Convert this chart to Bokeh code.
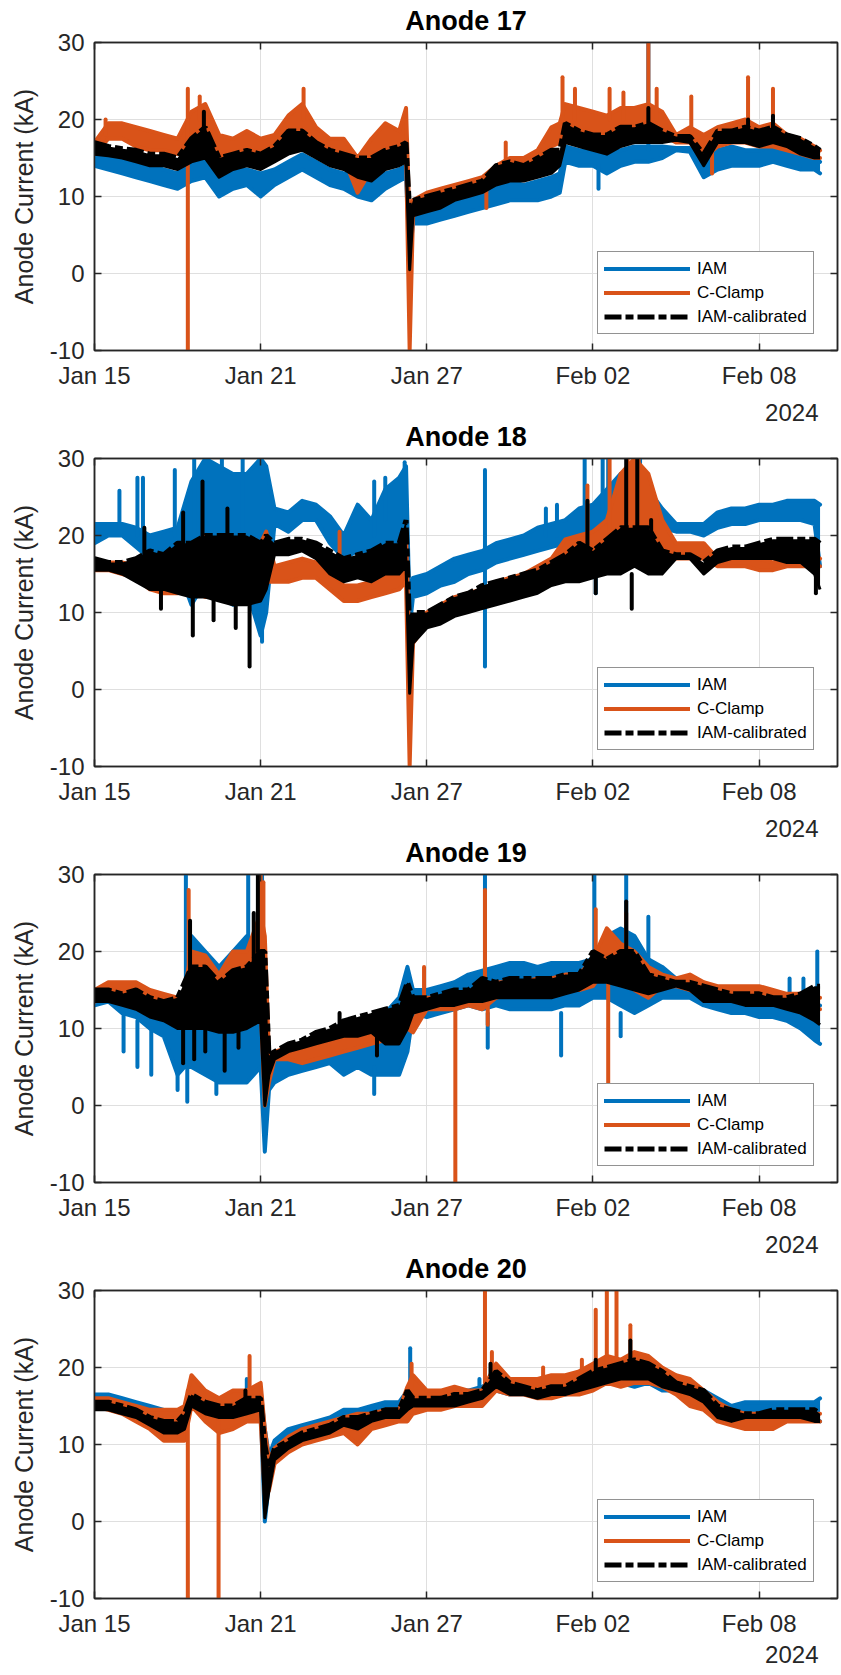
import numpy as np
import pandas as pd
from bokeh.plotting import figure
from bokeh.models import (FixedTicker, DatetimeTickFormatter, LinearAxis, DatetimeAxis,
                          Legend, LegendItem, Title, Range1d, CustomJSTickFormatter)
from bokeh.layouts import column
from bokeh.embed import file_html
from bokeh.resources import INLINE

# ---------------- data (days since 2024-01-15 00:00) ----------------
START_DATE = "2024-01-15"
END_DAYS = 26.83
TICK_DATES = ["2024-01-15", "2024-01-21", "2024-01-27", "2024-02-02", "2024-02-08"]
Y_TICKS = [-10, 0, 10, 20, 30]
Y_TICK_LABELS = ["-10", "0", "10", "20", "30"]
TITLES = ["Anode 17", "Anode 18", "Anode 19", "Anode 20"]
SERIES = ["IAM", "C-Clamp", "IAM-calibrated"]
YEAR_LABEL = "2024"
Y_LABEL = "Anode Current (kA)"

# ---- Anode 17 ----
t17 = [0, 0.5, 1, 1.5, 2, 2.5, 3, 3.5, 4, 4.5, 5, 5.5, 6, 6.5, 7, 7.5, 8, 8.5, 9, 9.5, 10, 10.5, 11,
       11.25, 11.38,
       11.5, 12, 12.5, 13, 13.5, 14, 14.5, 15, 15.5, 16, 16.5,
       16.8,
       17, 17.5, 18, 18.5, 19, 19.5, 20, 20.5, 21, 21.5, 22, 22.5, 23, 23.5, 24, 24.5, 25, 25.5, 26,
       26.2]
iam17_lo = [14, 13.5, 13, 12.5, 12, 11.5, 11, 12, 12.5, 10, 11, 11.5, 10, 11.5, 12.5, 13.5, 12.5, 11.5, 11, 10, 9.5, 11, 12,
            12.5, 2,
            6.5, 6.5, 7, 7.5, 8, 8.5, 9, 9.5, 9.5, 9.5, 10,
            10.5,
            14.5, 14, 14, 13, 14, 14.5, 14.5, 15, 16, 15.8, 12.5, 13.5, 14, 14, 14, 14.5, 14, 13.5, 13.5,
            13]
iam17_hi = [16, 15.5, 15, 14.5, 14, 13.5, 13, 15, 15.5, 13, 13.5, 13.5, 13, 13.5, 14.5, 15.5, 14.5, 13.5, 13, 12.5, 12, 13, 13.5,
            14, 7,
            8, 8.5, 9, 9.5, 10, 10.5, 12.5, 12, 11.5, 12, 12.5,
            13,
            16.5, 16, 16, 15.5, 16, 16.5, 16.5, 16.5, 16.3, 16.3, 14, 16, 16.5, 16, 16, 16.5, 16, 15.5, 15,
            14.5]
cc17_lo = [15.5, 17.5, 17.5, 16.5, 16, 16, 15.5, 17, 17.5, 14.5, 15, 15.5, 15, 16, 17, 18, 16, 15.5, 15, 10.5, 13.5, 15, 15,
           16, -10,
           7.5, 8.5, 9, 10, 10.5, 11.5, 12.5, 13.5, 14, 14, 16.5,
           17,
           19, 18, 18, 17.5, 18, 18, 18, 18, 17, 17, 15, 16.5, 17, 17, 16.5, 16.5, 16, 15.5, 15,
           15]
cc17_hi = [17, 19.5, 19.5, 19, 18.5, 18, 17.5, 21, 22, 18, 17.5, 18.5, 17.5, 18, 20.5, 22, 19, 17.5, 17.5, 15, 17.5, 19.5, 18.5,
           21.5, 6,
           9.5, 10.5, 11, 11.5, 12, 12.5, 14, 15, 15, 16, 19,
           19.5,
           22, 21.5, 21, 20.5, 21.5, 21.5, 22, 21, 18, 19, 18, 19, 19.5, 20, 19, 19.5, 18, 17.5, 16.5,
           16]
cal17_lo = [15.5, 15.3, 15, 14.5, 14, 14, 13.5, 14.5, 15, 12.5, 13.5, 14, 13.5, 14.5, 15.5, 16, 15, 14, 13.5, 12.5, 12, 13.5, 14,
            14.5, 0.5,
            7.5, 8, 8.5, 9.5, 10, 10.5, 11.5, 12, 12, 12.5, 13,
            14,
            17, 16.5, 16, 15.5, 16.5, 17, 17, 17, 17.3, 17, 14, 17, 17, 17, 16.5, 17, 16.5, 15.5, 15,
            15]
cal17_hi = [17, 16.5, 16.2, 16, 15.5, 15.5, 15, 17.5, 19, 15, 15.5, 16, 15.5, 16.5, 18.5, 18.5, 17, 16, 15.5, 15, 15, 16, 16.5,
            17, 8,
            9.5, 10, 10.5, 11, 11.5, 12, 14, 14.5, 14, 15, 16,
            16,
            19.5, 18.5, 18, 18, 19, 19, 19.5, 18.5, 17.8, 17.8, 15.5, 18.5, 18.5, 19, 18.5, 19, 18, 17.5, 16.5,
            16]
sp17_iam_t = [3.9, 18.2, 20.0]
sp17_iam_a = [15, 14, 16]
sp17_iam_b = [16.5, 11, 30]
sp17_cc_t = [0.4, 3.37, 3.8, 7.55, 14.15, 14.85, 16.9, 17.35, 18.6, 19.1, 20.0, 20.3, 21.55, 22.3, 23.6, 24.5]
sp17_cc_a = [18, 24, 20, 20, 12, 14, 19, 20, 20, 20, 20, 20, 18, 16, 19, 19]
sp17_cc_b = [20, -10, 23, 24, 8.5, 17, 25.5, 24, 24, 23.5, 30, 24, 23, 13, 25.5, 24]
sp17_cal_t = [3.95, 7.0, 20.0, 23.6, 24.5]
sp17_cal_a = [17, 17, 18, 18, 18]
sp17_cal_b = [21, 18.5, 21.5, 20, 20.5]

# ---- Anode 18 ----
t18 = [0, 0.5, 1, 1.5, 2, 2.5, 3, 3.5, 4, 4.5, 5, 5.5, 6,
       6.2,
       6.5, 7, 7.5, 8, 8.5, 9, 9.5, 10, 10.5, 11,
       11.25, 11.38,
       11.5, 12, 12.5, 13, 13.5, 14, 14.5, 15, 15.5, 16, 16.5, 17, 17.5, 18, 18.5, 19, 19.5, 20, 20.5, 21,
       21.5, 22, 22.5, 23, 23.5, 24, 24.5, 25, 25.5, 26,
       26.2]
iam18_lo = [19, 20, 20, 18.5, 17, 17, 16, 11, 14, 12, 11, 13, 7,
            10,
            21.5, 20.5, 22, 22, 19, 17, 18, 17, 18, 19,
            20, 8,
            12, 12.5, 13.5, 14, 15, 15.5, 16.5, 17, 17.5, 18, 18.5, 19, 19, 19, 20, 21, 20, 20, 21, 20.5,
            20.5, 20, 21, 21.5, 21.5, 22, 22, 22, 22, 21.5,
            16]
iam18_hi = [21.5, 21.5, 21.5, 21, 20, 20.5, 21, 27, 30, 29, 28, 28, 30,
            29,
            23.5, 23, 24.5, 24, 22.5, 20, 24, 22, 26, 27.5,
            29, 10,
            14.5, 15, 16, 17, 17.5, 18, 19, 19.5, 20, 21, 21.5, 22, 23.5, 24, 26, 28, 27, 26, 23.5, 21.5,
            21.5, 21.5, 23, 23.5, 23.5, 24, 24, 24.5, 24.5, 24.5,
            24]
cc18_lo = [15.5, 15.5, 15, 14.5, 13, 12.5, 12.5, 13, 12, 13, 12, 12, 12,
           14,
           14, 14, 14.5, 14.5, 13, 11.5, 11.5, 12, 12.5, 13,
           14, -10,
           6, 8.5, 9, 10, 10.5, 11, 11.5, 12, 13, 13.5, 14.5, 16.5, 17, 17, 17, 18, 18, 17, 18, 17,
           17, 17, 16, 16, 16, 15.5, 15.5, 16, 16, 16,
           16]
cc18_hi = [16.5, 16.5, 16.5, 16, 15.5, 15, 15.5, 18, 20, 19, 19, 19, 19,
           20.5,
           16, 16.5, 17, 16.5, 15.5, 13.5, 13.5, 14, 15, 16,
           20, 5,
           9, 10, 11, 12, 12.5, 13, 14, 14.5, 15, 16, 17, 19.5, 20, 20.5, 22, 28, 30, 28, 22, 19,
           19, 19, 17, 17, 17, 17, 16.5, 17, 17.5, 17.5,
           17]
cal18_lo = [15.5, 15.5, 15, 14, 13, 13, 12.5, 12, 12, 11.5, 11, 11, 11.5,
            13,
            17.5, 17.5, 18, 17, 15, 14, 14.5, 14, 15, 15,
            16, -0.5,
            6, 8, 8.5, 9.5, 10, 10.5, 11, 11.5, 12, 12.5, 13.5, 14, 14, 14.5, 15, 15, 16, 15, 15, 17,
            17, 15, 16.5, 17, 17, 17, 17, 16.5, 16.5, 15,
            13]
cal18_hi = [17, 16.5, 16.5, 17, 18, 17.5, 19, 19, 20, 20, 20, 20, 19,
            20,
            19, 19.5, 19.5, 19, 18, 17, 17.5, 18, 19, 19,
            22, 8,
            10, 10, 11, 12, 12.5, 13.5, 14, 14.5, 15, 15.5, 16.5, 17.5, 19, 18, 19.5, 21, 21, 21, 18, 17.5,
            17.5, 16.5, 18, 18.5, 18.5, 19, 19.5, 19.5, 19.5, 19.5,
            19]
sp18_iam_t = [0.9, 1.55, 1.75, 2.9, 3.6, 4.6, 5.35, 6.05, 10.1, 10.5, 11.2, 14.1, 16.3, 16.7, 17.7, 18.1, 18.35, 18.55, 19.7]
sp18_iam_a = [21, 20, 20, 20, 20, 20, 20, 12, 20, 22, 22, 3, 20, 20, 20, 18, 20, 20, 20]
sp18_iam_b = [25.8, 27.5, 27.5, 28.5, 30, 30, 30, 6.2, 27, 27.5, 29.5, 28.5, 23.5, 24, 30, 12.5, 30, 30, 30]
sp18_cc_t = [8.85, 17.8, 18.6, 19.25, 19.65]
sp18_cc_a = [14, 19, 20, 20, 20]
sp18_cc_b = [20.5, 26.5, 30, 30, 30]
sp18_cal_t = [1.8, 2.4, 3.2, 3.55, 3.9, 4.3, 4.8, 5.1, 5.6, 17.8, 18.1, 19.2, 19.4, 19.6, 20.1, 26.05]
sp18_cal_a = [16, 13, 18, 12, 18, 12, 18, 12, 11, 17, 15, 20, 15, 20, 18, 15]
sp18_cal_b = [21, 10.5, 23, 7, 27, 9, 23.5, 8, 3, 24.5, 12.5, 30, 10.5, 30, 22, 12.5]

# ---- Anode 19 ----
t19 = [0, 0.5, 1, 1.5, 2, 2.5, 3,
       3.25,
       3.5, 4, 4.5, 5, 5.5, 6,
       6.15, 6.3,
       6.5, 7, 7.5, 8, 8.5, 9, 9.5, 10, 10.5, 11,
       11.3,
       11.5, 12, 12.5, 13, 13.5, 14, 14.5, 15, 15.5, 16, 16.5, 17, 17.5, 18, 18.5, 19, 19.5, 20, 20.5, 21,
       21.5, 22, 22.5, 23, 23.5, 24, 24.5, 25, 25.5, 26,
       26.2]
iam19_lo = [13, 13.5, 12, 11.5, 10, 9, 4,
            5,
            5, 4, 3, 3, 3, 5,
            -6, 2,
            3, 4, 4.5, 5, 5.5, 4, 5, 4, 4, 4,
            7,
            12, 11.5, 12, 12.5, 13, 12.5, 13, 12.5, 12.5, 12.5, 12.5, 13, 13, 14, 14, 13, 12, 13, 14, 14,
            14, 13, 12.5, 12, 12, 11.5, 11.5, 11, 10, 8.5,
            8]
iam19_hi = [15, 15.5, 15, 15, 14.5, 14, 14,
            15,
            22, 20, 18, 20, 22, 20,
            10, 6,
            6, 7, 7.5, 8, 9, 11, 10, 11, 12, 14,
            18,
            15, 15, 15.5, 16, 17, 17.5, 18, 18.5, 18.5, 18, 18.5, 18.5, 18.5, 19, 22, 23, 22, 19, 18, 16.5,
            16, 15.5, 15, 14.5, 14, 13.5, 13.5, 13, 13, 13,
            13]
cc19_lo = [13.5, 14, 14.5, 14.5, 13.5, 12.5, 11.5,
           12,
           12, 12, 11, 11, 12, 13,
           0, 3,
           6, 6, 5.5, 6, 6.5, 7, 7.5, 8, 8.5, 9.5,
           10,
           9.5, 12.5, 12.5, 12.5, 13, 12.5, 14, 14.5, 14.5, 14.5, 15, 15, 15, 15.5, 18, 17, 15, 14, 15.5, 15.5,
           15, 14, 14, 14.5, 14.5, 14.5, 14.5, 13.5, 13, 12.5,
           12.5]
cc19_hi = [15, 16, 16, 16, 15, 14.5, 14,
           15,
           20, 19.5, 17, 20, 20, 25,
           22, 6.5,
           7, 7.5, 7.5, 8, 8.5, 9.5, 9.5, 10, 11, 11.5,
           12,
           11, 14, 14, 14, 14.5, 15, 16, 16, 16, 16.5, 16.5, 17, 17, 19, 23, 21, 20, 18, 17, 16.5,
           17, 16, 15.5, 15.5, 15.5, 15.5, 15, 14.5, 14.5, 14,
           14]
cal19_lo = [13.5, 13.5, 13, 12.5, 11.5, 11, 10,
            10,
            10, 10, 9.5, 9.5, 10, 11,
            0, 4,
            6, 7, 7.5, 8, 8.5, 9, 9, 9.5, 8, 8,
            10,
            12, 12.5, 13, 13, 13.5, 13.5, 14, 14, 14, 14, 14, 14.5, 15, 16, 16, 15.5, 15, 14.5, 15, 15.5,
            15, 13.5, 13.5, 13.5, 13, 13, 13, 12.5, 12, 11,
            10.5]
cal19_hi = [15, 15, 14.5, 15, 14, 13.5, 14,
            16,
            18, 18, 16, 17.5, 18, 20,
            20, 6.5,
            7, 8, 8.5, 9.5, 10, 11, 11.5, 12, 12.5, 13,
            16,
            14, 14, 14.5, 15, 15, 16.5, 16, 16.5, 16.5, 16.5, 16.5, 17, 17, 20, 19, 20, 20, 17, 16.5, 16,
            16, 15.5, 15, 14.5, 14.5, 14.5, 14, 14, 14.5, 15.5,
            15.5]
sp19_iam_t = [1.05, 1.55, 2.05, 3.0, 3.3, 3.35, 4.4, 5.55, 6.05, 10.1, 14.1, 14.2, 16.85, 18.05, 19.0, 19.2, 20.0, 25.1, 25.6, 26.1]
sp19_iam_a = [12, 11, 10, 5, 15, 5, 4, 20, 20, 5, 17, 12, 12, 18, 12, 20, 18, 13, 13, 13]
sp19_iam_b = [7, 5, 4, 2, 30, 0.5, 1.5, 30, 30, 1.5, 30, 7.5, 6.5, 30, 9, 30, 24.5, 16.5, 16.5, 20]
sp19_cc_t = [3.4, 6.0, 6.1, 11.9, 13.03, 14.1, 14.2, 18.1, 18.55, 19.2]
sp19_cc_a = [15, 20, 20, 12, 13, 15, 14, 17, 17, 18]
sp19_cc_b = [28, 30, 29, 18, -10, 28, 10.5, 25.5, 3, 25]
sp19_cal_t = [3.2, 3.45, 3.6, 4.0, 4.7, 5.2, 5.75, 5.9, 8.85, 10.2, 19.2]
sp19_cal_a = [11, 17, 10, 10, 10, 10, 18, 20, 10, 9, 18]
sp19_cal_b = [5.5, 24, 6, 7, 4.5, 7.5, 25, 30, 12, 6.5, 26.5]

# ---- Anode 20 ----
t20 = [0, 0.5, 1, 1.5, 2, 2.5, 3,
       3.25,
       3.5, 4, 4.5, 5, 5.5, 6,
       6.15, 6.3,
       6.5, 7, 7.5, 8, 8.5, 9, 9.5, 10, 10.5, 11,
       11.3,
       11.5, 12, 12.5, 13, 13.5, 14, 14.5, 15, 15.5, 16, 16.5, 17, 17.5, 18, 18.5, 19, 19.5, 20, 20.5, 21,
       21.5, 22, 22.5, 23, 23.5, 24, 24.5, 25, 25.5, 26,
       26.2]
iam20_lo = [15, 15, 14.5, 14, 13.5, 12.5, 12.5,
            13,
            15, 14, 13.5, 13.5, 14, 14.5,
            0, 5,
            8.5, 10, 11, 11.5, 12, 13, 13, 13.5, 14, 14,
            15,
            15, 15, 15, 15.5, 15.5, 16, 17, 16.5, 16.5, 16.5, 16.5, 16.5, 17, 17.5, 18, 18, 17.5, 18, 17, 17,
            16.5, 15.5, 14, 13.5, 13.5, 14, 14, 14, 14, 13.5,
            13]
iam20_hi = [16.5, 16.5, 16, 15.5, 15, 14.5, 14,
            15,
            17, 16.5, 16, 16, 17, 17,
            12, 8.5,
            10.5, 12, 12.5, 13, 13.5, 14.5, 14.5, 15, 15.5, 15.5,
            17,
            16.5, 16.5, 16.5, 17, 17, 17.5, 18.5, 18, 17.5, 17.5, 17.5, 17.5, 18.5, 19, 19.5, 20, 20, 20, 19.5, 18.5,
            18, 17, 16, 15, 15.5, 15.5, 15.5, 15.5, 15.5, 15.5,
            16]
cc20_lo = [15, 14.5, 14, 13, 12, 10.5, 10.5,
           10.5,
           15, 13, 11.5, 12, 13, 13,
           3.5, 4,
           7.5, 9, 10, 10.5, 11, 11.5, 10, 12, 12.5, 13,
           13,
           14, 14.5, 14.5, 15, 15, 15, 17, 16.5, 16.5, 16, 16, 16.5, 16.5, 17, 18, 17.5, 18, 18, 17.5, 16.5,
           15, 14.5, 13, 12.5, 12, 12, 12, 13, 13, 13,
           13]
cc20_hi = [16, 16, 15.5, 15, 14.5, 14.5, 14.5,
           15,
           19, 17, 16, 17, 17, 18,
           12, 8,
           9.5, 11, 12, 12.5, 13, 13.5, 14, 14, 14.5, 14.5,
           17.5,
           19, 17, 17, 17.5, 17, 17, 20.5, 18.5, 18.5, 18.5, 19, 19, 19.5, 20.5, 21.5, 21, 22, 21.5, 20, 19,
           18.5, 17, 15.5, 14.5, 14, 14, 14, 14, 14, 14,
           14]
cal20_lo = [14.5, 14.5, 14, 13.5, 12.5, 11.5, 11.5,
            12,
            15, 14, 13.5, 13.5, 14, 14.5,
            0.5, 4,
            8, 9.5, 10.5, 11, 11.5, 12.5, 12, 13, 13.5, 13.5,
            14.5,
            15, 15, 15, 15, 15.5, 16, 17.5, 16.5, 16.5, 16, 16.5, 16.5, 17, 17.5, 18, 18.5, 18.5, 18.5, 17.5, 17,
            16.5, 15.5, 13.5, 13, 13.5, 13.5, 13.5, 13.5, 13.5, 13,
            13]
cal20_hi = [15.5, 15.5, 15, 14.5, 13.5, 13, 13,
            14,
            16.5, 15.5, 15, 15, 16, 16,
            10, 7,
            9.5, 10.5, 11.5, 12, 12.5, 13.5, 13.5, 14, 14.5, 14.5,
            17,
            16, 16, 16, 16.5, 16.5, 17, 19.5, 18, 17.5, 17, 17.5, 17.5, 18.5, 19.5, 20, 20.5, 21, 20.5, 19.5, 18,
            17.5, 17, 15, 14.5, 14, 14, 14.5, 14.5, 14.5, 14.5,
            14]
sp20_iam_t = [5.5, 11.4, 13.9]
sp20_iam_a = [17, 17, 17]
sp20_iam_b = [18.5, 22.5, 18.5]
sp20_cc_t = [3.37, 4.48, 5.6, 11.45, 14.1, 14.35, 16.2, 17.6, 18.1, 18.5, 18.85, 19.35]
sp20_cc_a = [17, 13, 17, 17, 18, 19, 18, 19, 20, 20, 20, 21]
sp20_cc_b = [-10, -10, 21.5, 20.5, 30, 22, 20, 21, 27.5, 30, 30, 25.5]
sp20_cal_t = [5.45, 14.3, 18.1, 19.35]
sp20_cal_a = [16, 19, 19, 20]
sp20_cal_b = [17, 20.5, 21, 23.5]

# ---------------- styling ----------------
BLUE = "#0072BD"
ORANGE = "#D95319"
BLACK = "#000000"
AX = "#262626"
GRID = "#dfdfdf"
FONT = "Liberation Sans"
FW = 841
LEFT = 94
RIGHT = 4
TOP = 50
FRAME_H = 308
BOTTOMS = [90, 90, 90, 77]
YEAR_STANDOFF = [20, 20, 20, 8]
MARGIN_TOP = [-8, -32, -32, -32]

BASE = pd.Timestamp(START_DATE)


def to_dt(days):
    return (BASE + pd.to_timedelta(np.asarray(days, dtype=float), unit="D")).values


x_ticks_ms = [pd.Timestamp(d).value / 1e6 for d in TICK_DATES]
fmt_str = "%b %d"


def style_axis(ax, labels=True):
    ax.axis_line_color = AX
    ax.axis_line_width = 1.5
    ax.major_tick_line_color = AX
    ax.major_tick_line_width = 1.5
    ax.major_tick_in = 7
    ax.major_tick_out = 0
    ax.minor_tick_in = 0
    ax.minor_tick_out = 0
    ax.major_label_text_font = FONT
    ax.major_label_text_color = AX
    if labels:
        ax.major_label_text_font_size = "24px"
    else:
        ax.major_label_text_font_size = "0px"
        ax.major_label_standoff = 0
        ax.formatter = CustomJSTickFormatter(code="return ''")


def make_panel(i, title, t, bands, spikes):
    height = TOP + FRAME_H + BOTTOMS[i]
    p = figure(width=FW, height=height, x_axis_type="datetime", title=None,
               x_range=Range1d(BASE, BASE + pd.Timedelta(days=END_DAYS)),
               y_range=Range1d(-10, 30),
               output_backend="svg", toolbar_location=None,
               min_border_left=LEFT, min_border_right=RIGHT, min_border_top=TOP,
               min_border_bottom=BOTTOMS[i], margin=(MARGIN_TOP[i], 0, 0, 0))
    p.background_fill_color = "white"
    p.border_fill_color = None
    p.outline_line_color = AX
    p.outline_line_width = 1.5

    xt = FixedTicker(ticks=x_ticks_ms)
    yt = FixedTicker(ticks=Y_TICKS)
    fmt = DatetimeTickFormatter(microseconds=fmt_str, milliseconds=fmt_str, seconds=fmt_str,
                                minsec=fmt_str, minutes=fmt_str, hourmin=fmt_str, hours=fmt_str,
                                days=fmt_str, months=fmt_str, years=fmt_str)
    xa = p.xaxis[0]
    xa.ticker = xt
    xa.formatter = fmt
    style_axis(xa)
    xa.major_label_standoff = 11
    ya = p.yaxis[0]
    ya.ticker = yt
    style_axis(ya)
    ya.major_label_overrides = {v: s for v, s in zip(Y_TICKS, Y_TICK_LABELS)}
    ya.major_label_standoff = 10
    ya.axis_label = Y_LABEL
    ya.axis_label_text_font = FONT
    ya.axis_label_text_font_size = "25px"
    ya.axis_label_text_font_style = "normal"
    ya.axis_label_text_color = AX
    ya.axis_label_standoff = 9

    top_ax = DatetimeAxis(ticker=xt)
    style_axis(top_ax, labels=False)
    p.add_layout(top_ax, "above")
    right_ax = LinearAxis(ticker=yt)
    style_axis(right_ax, labels=False)
    p.add_layout(right_ax, "right")

    p.xgrid.ticker = xt
    p.ygrid.ticker = yt
    p.xgrid.grid_line_color = GRID
    p.ygrid.grid_line_color = GRID
    p.xgrid.grid_line_width = 1
    p.ygrid.grid_line_width = 1

    x = to_dt(t)
    colors = {"iam": BLUE, "cc": ORANGE, "cal": BLACK}
    legend_r = {}
    for key in ["iam", "cc", "cal"]:
        lo, hi = bands[key]
        c = colors[key]
        p.varea(x=x, y1=lo, y2=hi, fill_color=c)
        if key == "cal":
            p.line(x, lo, line_color=c, line_width=3, line_join="round")
            r = p.line(x, hi, line_color=c, line_width=5, line_dash="17 4 8 4")
        else:
            p.line(x, lo, line_color=c, line_width=4, line_join="round", line_cap="round")
            r = p.line(x, hi, line_color=c, line_width=4, line_join="round", line_cap="round")
        legend_r[key] = r
        st, sa, sb = spikes[key]
        sx = to_dt(st)
        p.segment(x0=sx, y0=sa, x1=sx, y1=sb, line_color=c, line_width=4, line_cap="round")

    leg = Legend(items=[LegendItem(label=SERIES[0], renderers=[legend_r["iam"]]),
                        LegendItem(label=SERIES[1], renderers=[legend_r["cc"]]),
                        LegendItem(label=SERIES[2], renderers=[legend_r["cal"]])],
                 location=(503, 16), orientation="vertical",
                 border_line_color=AX, border_line_width=1,
                 background_fill_color="white", background_fill_alpha=1,
                 label_text_font=FONT, label_text_font_size="17px", label_text_color="#000000",
                 glyph_width=86, glyph_height=21, label_height=21, label_standoff=7,
                 padding=6, spacing=3, margin=0)
    p.add_layout(leg)

    p.add_layout(Title(text=title, align="center", text_font=FONT, text_font_size="27px",
                       text_font_style="bold", text_color="#000000", standoff=13), "above")
    p.add_layout(Title(text=YEAR_LABEL, align="right", offset=19, text_font=FONT,
                       text_font_size="24px", text_font_style="normal", text_color=AX,
                       standoff=YEAR_STANDOFF[i]), "below")
    return p


panels = [
    (TITLES[0], t17,
     {"iam": (iam17_lo, iam17_hi), "cc": (cc17_lo, cc17_hi), "cal": (cal17_lo, cal17_hi)},
     {"iam": (sp17_iam_t, sp17_iam_a, sp17_iam_b), "cc": (sp17_cc_t, sp17_cc_a, sp17_cc_b),
      "cal": (sp17_cal_t, sp17_cal_a, sp17_cal_b)}),
    (TITLES[1], t18,
     {"iam": (iam18_lo, iam18_hi), "cc": (cc18_lo, cc18_hi), "cal": (cal18_lo, cal18_hi)},
     {"iam": (sp18_iam_t, sp18_iam_a, sp18_iam_b), "cc": (sp18_cc_t, sp18_cc_a, sp18_cc_b),
      "cal": (sp18_cal_t, sp18_cal_a, sp18_cal_b)}),
    (TITLES[2], t19,
     {"iam": (iam19_lo, iam19_hi), "cc": (cc19_lo, cc19_hi), "cal": (cal19_lo, cal19_hi)},
     {"iam": (sp19_iam_t, sp19_iam_a, sp19_iam_b), "cc": (sp19_cc_t, sp19_cc_a, sp19_cc_b),
      "cal": (sp19_cal_t, sp19_cal_a, sp19_cal_b)}),
    (TITLES[3], t20,
     {"iam": (iam20_lo, iam20_hi), "cc": (cc20_lo, cc20_hi), "cal": (cal20_lo, cal20_hi)},
     {"iam": (sp20_iam_t, sp20_iam_a, sp20_iam_b), "cc": (sp20_cc_t, sp20_cc_a, sp20_cc_b),
      "cal": (sp20_cal_t, sp20_cal_a, sp20_cal_b)}),
]

figs = [make_panel(i, ti, t, b, s) for i, (ti, t, b, s) in enumerate(panels)]
layout = column(*figs, spacing=0)

open("out.html", "w").write(file_html(layout, INLINE))
